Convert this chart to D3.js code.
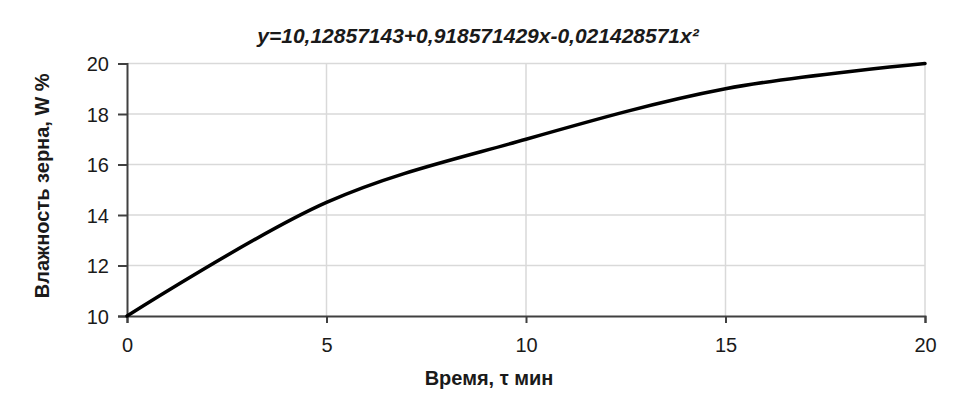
<!DOCTYPE html>
<html>
<head>
<meta charset="utf-8">
<script src="https://cdn.jsdelivr.net/npm/d3@7"></script>
<style>
  html, body { margin: 0; padding: 0; background: #fff; }
  svg { display: block; }
</style>
</head>
<body>
<svg id="chart" width="959" height="402"></svg>
<script>
// ---- data ----
const timeMin = [0, 5, 10, 15, 20];
const moisture = [10, 14.5, 17, 19, 20];
const xTicks = [0, 5, 10, 15, 20];
const yTicks = [10, 12, 14, 16, 18, 20];
const titleText = "y=10,12857143+0,918571429x-0,021428571x²";
const xLabel = "Время, τ мин";
const yLabel = "Влажность зерна, W %";

// ---- layout ----
const W = 959, H = 402;
const plot = { left: 127, right: 925, top: 63.5, bottom: 316 };
const font = "'Liberation Sans', Arial, sans-serif";
const axisColor = "#404040";
const gridColor = "#d9d9d9";
const textColor = "#1a1a1a";

const svg = d3.select("#chart");
svg.append("rect").attr("width", W).attr("height", H).attr("fill", "#fff");

const x = d3.scaleLinear().domain([0, 20]).range([plot.left, plot.right]);
const y = d3.scaleLinear().domain([10, 20]).range([plot.bottom, plot.top]);

// gridlines
const grid = svg.append("g");
grid.selectAll("line.h").data(yTicks.filter(d => d !== 10)).join("line")
  .attr("x1", plot.left).attr("x2", plot.right)
  .attr("y1", d => y(d)).attr("y2", d => y(d))
  .attr("stroke", gridColor).attr("stroke-width", 1.5);
grid.selectAll("line.v").data(xTicks.filter(d => d !== 0)).join("line")
  .attr("x1", d => x(d)).attr("x2", d => x(d))
  .attr("y1", plot.top).attr("y2", plot.bottom)
  .attr("stroke", gridColor).attr("stroke-width", 1.5);

// axes
const xAxis = d3.axisBottom(x).tickValues(xTicks).tickSize(7).tickPadding(15);
const yAxis = d3.axisLeft(y).tickValues(yTicks).tickSize(9).tickPadding(9);

const gx = svg.append("g").attr("transform", `translate(0,${plot.bottom})`).call(xAxis);
const gy = svg.append("g").attr("transform", `translate(${plot.left},0)`).call(yAxis);
[gx, gy].forEach(g => {
  g.select(".domain").attr("stroke", axisColor).attr("stroke-width", 2);
  g.selectAll(".tick line").attr("stroke", axisColor).attr("stroke-width", 2);
  g.selectAll(".tick text").attr("fill", textColor)
    .style("font-family", font).style("font-size", "20px");
});
gy.selectAll(".tick text").attr("dy", "0.36em");

// line
const line = d3.line()
  .x((d, i) => x(timeMin[i]))
  .y(d => y(d))
  .curve(d3.curveCardinal.tension(0));
svg.append("path").datum(moisture)
  .attr("d", line)
  .attr("fill", "none")
  .attr("stroke", "#000")
  .attr("stroke-width", 3.5)
  .attr("stroke-linejoin", "round")
  .attr("stroke-linecap", "round");

// title
svg.append("text")
  .attr("x", 478).attr("y", 43)
  .attr("text-anchor", "middle")
  .style("font-family", font).style("font-size", "21px")
  .style("font-weight", "bold").style("font-style", "italic")
  .attr("fill", textColor)
  .text(titleText);

// axis labels
svg.append("text")
  .attr("x", 489).attr("y", 385)
  .attr("text-anchor", "middle")
  .style("font-family", font).style("font-size", "20px").style("font-weight", "bold")
  .attr("fill", textColor)
  .text(xLabel);

svg.append("text")
  .attr("transform", `translate(49,${(plot.top + plot.bottom) / 2 - 4}) rotate(-90)`)
  .attr("text-anchor", "middle")
  .style("font-family", font).style("font-size", "20px").style("font-weight", "bold")
  .attr("fill", textColor)
  .text(yLabel);
</script>
</body>
</html>
